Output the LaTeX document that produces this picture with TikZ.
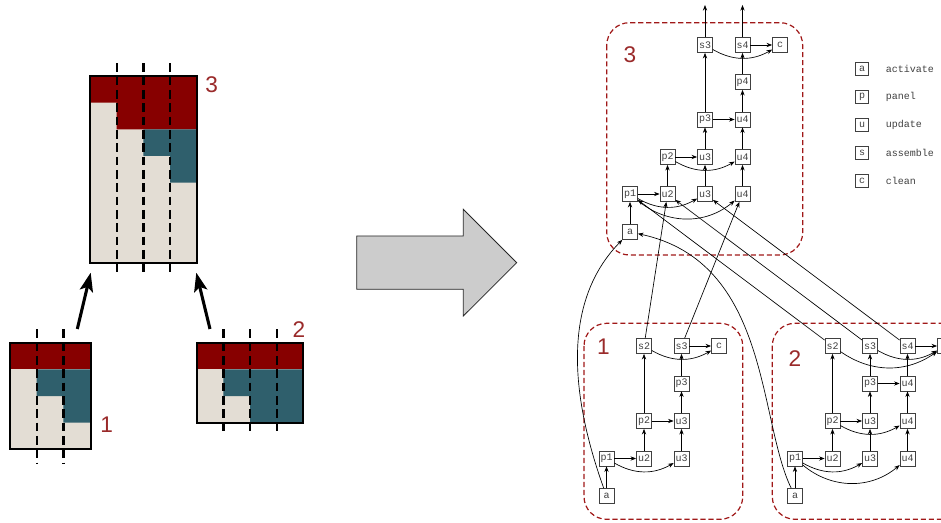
\documentclass[tikz,border=0pt]{standalone}
\usepackage{fontspec}
\setmainfont{Liberation Sans}
\setsansfont{Liberation Sans}
\setmonofont{Liberation Mono}
\usetikzlibrary{arrows.meta}
\definecolor{dred}{HTML}{870000}
\definecolor{teal1}{HTML}{2F5F6C}
\definecolor{beige}{HTML}{E3DDD4}
\definecolor{lblred}{HTML}{9A2A2A}
\definecolor{clred}{HTML}{A01818}
\definecolor{bgray}{HTML}{CCCCCC}
\tikzset{
  gnode/.style={draw=black!75, line width=0.6pt, minimum width=11.2pt, minimum height=11.2pt, inner sep=0pt, font=\ttfamily\fontsize{7.5}{8}\selectfont, text=black!75},
  lnode/.style={draw=black!75, line width=0.6pt, minimum width=9.5pt, minimum height=9.5pt, inner sep=0pt, font=\ttfamily\fontsize{7.5}{8}\selectfont, text=black!75},
  ltext/.style={anchor=west, inner sep=0pt, font=\ttfamily\fontsize{7.5}{8}\selectfont, text=black!75},
  gedge/.style={-{Stealth[length=4.2pt,width=3.2pt]}, line width=0.5pt},
  cluster/.style={draw=clred, dashed, dash pattern=on 3.8pt off 2.2pt, line width=0.9pt, rounded corners=17pt},
  clabel/.style={text=lblred, font=\sffamily\fontsize{17}{20}\selectfont, inner sep=0pt},
  gridline/.style={line width=1.8pt, dash pattern=on 6.5pt off 3.5pt},
  boxborder/.style={draw=black, line width=1.5pt},
  bigarrow/.style={-{Stealth[length=14pt,width=10pt,inset=3pt]}, line width=2.3pt},
}
\begin{document}
\begin{tikzpicture}[x=0.75pt,y=-0.75pt]
\useasboundingbox (0,0) rectangle (941,523);
% ---------- left: box 3
\fill[beige] (90,76) rectangle (196.7,262.7);
\fill[dred] (90,76) -- (196.7,76) -- (196.7,129.3) -- (116.7,129.3) -- (116.7,102.7) -- (90,102.7) -- cycle;
\fill[teal1] (143.3,129.3) -- (196.7,129.3) -- (196.7,182.7) -- (170,182.7) -- (170,156) -- (143.3,156) -- cycle;
\draw[boxborder] (90,76) rectangle (196.7,262.7);
\foreach \x in {116.7,143.3,170} \draw[gridline] (\x,63.3) -- (\x,276);
\node[clabel] (L3) at (211.7,85) {3};
% ---------- box 1
\fill[beige] (10,342.7) rectangle (90.7,449.3);
\fill[dred] (10,342.7) rectangle (90.7,369.3);
\fill[teal1] (36.7,369.3) -- (90.7,369.3) -- (90.7,422.7) -- (63.3,422.7) -- (63.3,396) -- (36.7,396) -- cycle;
\draw[boxborder] (10,342.7) rectangle (90.7,449.3);
\foreach \x in {36.7,63.3} \draw[gridline] (\x,329.3) -- (\x,462.7);
\node[clabel] (L1) at (106.7,425) {1};
% ---------- box 2
\fill[beige] (196.7,342.7) rectangle (303.3,422.7);
\fill[dred] (196.7,342.7) rectangle (303.3,369.3);
\fill[teal1] (223.3,369.3) -- (303.3,369.3) -- (303.3,422.7) -- (250,422.7) -- (250,396) -- (223.3,396) -- cycle;
\draw[boxborder] (196.7,342.7) rectangle (303.3,422.7);
\foreach \x in {223.3,250,276.7} \draw[gridline] (\x,329.3) -- (\x,434);
\node[clabel] (L2) at (299,330) {2};
% arrows
\coordinate (b1s) at (77.3,329);
\coordinate (b1e) at (90.7,272.7);
\coordinate (b2s) at (210,329);
\coordinate (b2e) at (196.3,272.7);
\draw[bigarrow] (b1s) -- (b1e);
\draw[bigarrow] (b2s) -- (b2e);
% ---------- block arrow
\draw[fill=bgray, draw=black!85, line width=0.6pt] (356.7,236) -- (463.3,236) -- (463.3,209.3) -- (516.7,262.7) -- (463.3,316) -- (463.3,289.3) -- (356.7,289.3) -- cycle;
% ---------- clusters
\draw[cluster] (606.7,22.7) rectangle (802.7,255);
\draw[cluster] (584,323.3) rectangle (742.7,519.3);
\draw[cluster] (772.3,323.3) rectangle (968,519.3);
\node[clabel] (K3) at (630,55) {3};
\node[clabel] (K1) at (603.3,347) {1};
\node[clabel] (K2) at (795,359) {2};
% ---------- cluster 3 nodes
\node[gnode] (c3s3) at (705,45) {s3};
\node[gnode] (c3s4) at (742.5,45) {s4};
\node[gnode] (c3c) at (780,45) {c};
\node[gnode] (c3p4) at (742.5,82) {p4};
\node[gnode] (c3p3) at (705,119.5) {p3};
\node[gnode] (c3u4a) at (742.5,119.5) {u4};
\node[gnode] (c3p2) at (667.5,157) {p2};
\node[gnode] (c3u3b) at (705,157) {u3};
\node[gnode] (c3u4b) at (742.5,157) {u4};
\node[gnode] (c3p1) at (630,194) {p1};
\node[gnode] (c3u2) at (667.5,194) {u2};
\node[gnode] (c3u3) at (705,194) {u3};
\node[gnode] (c3u4) at (742.5,194) {u4};
\node[gnode] (c3a) at (630,232) {a};
\coordinate (t3) at (705,5);
\coordinate (t4) at (742.5,5);
% ---------- cluster 1 nodes
\node[gnode] (c1s2) at (644,346) {s2};
\node[gnode] (c1s3) at (681.5,346) {s3};
\node[gnode] (c1c) at (719,346) {c};
\node[gnode] (c1p3) at (681.5,383.5) {p3};
\node[gnode] (c1p2) at (644,421) {p2};
\node[gnode] (c1u3b) at (681.5,421) {u3};
\node[gnode] (c1p1) at (606.5,458.5) {p1};
\node[gnode] (c1u2) at (644,458.5) {u2};
\node[gnode] (c1u3) at (681.5,458.5) {u3};
\node[gnode] (c1a) at (606.5,496) {a};
% ---------- cluster 2 nodes
\node[gnode] (c2s2) at (832.5,346) {s2};
\node[gnode] (c2s3) at (870,346) {s3};
\node[gnode] (c2s4) at (907.5,346) {s4};
\node[gnode] (c2c) at (945,346) {c};
\node[gnode] (c2p3) at (870,383.5) {p3};
\node[gnode] (c2u4a) at (907.5,383.5) {u4};
\node[gnode] (c2p2) at (832.5,421) {p2};
\node[gnode] (c2u3b) at (870,421) {u3};
\node[gnode] (c2u4b) at (907.5,421) {u4};
\node[gnode] (c2p1) at (795,458.5) {p1};
\node[gnode] (c2u2) at (832.5,458.5) {u2};
\node[gnode] (c2u3) at (870,458.5) {u3};
\node[gnode] (c2u4) at (907.5,458.5) {u4};
\node[gnode] (c2a) at (795,496) {a};
% ---------- legend
\node[lnode] (la) at (862,69) {a};
\node[lnode] (lp) at (862,97) {p};
\node[lnode] (lu) at (862,125) {u};
\node[lnode] (ls) at (862,153) {s};
\node[lnode] (lc) at (862,181) {c};
\node[ltext] (ta) at (885.5,69) {activate};
\node[ltext] (tp) at (885.5,97) {panel};
\node[ltext] (tu) at (885.5,125) {update};
\node[ltext] (ts) at (885.5,153) {assemble};
\node[ltext] (tc) at (885.5,181) {clean};
% ---------- cluster 3 edges
\draw[gedge] (c3a) -- (c3p1);
\draw[gedge] (c3p1) -- (c3u2);
\draw[gedge] (c3p1) to[bend right=30] (c3u3);
\draw[gedge] (c3p1) to[bend right=40] (c3u4);
\draw[gedge] (c3u2) -- (c3p2);
\draw[gedge] (c3p2) -- (c3u3b);
\draw[gedge] (c3p2) to[bend right=30] (c3u4b);
\draw[gedge] (c3u3) -- (c3u3b);
\draw[gedge] (c3u4) -- (c3u4b);
\draw[gedge] (c3u3b) -- (c3p3);
\draw[gedge] (c3p3) -- (c3u4a);
\draw[gedge] (c3u4b) -- (c3u4a);
\draw[gedge] (c3u4a) -- (c3p4);
\draw[gedge] (c3p4) -- (c3s4);
\draw[gedge] (c3p3) -- (c3s3);
\draw[gedge] (c3s4) -- (c3c);
\draw[gedge] (c3s3) to[bend right=30] (c3c);
\draw[gedge] (c3s3) -- (t3);
\draw[gedge] (c3s4) -- (t4);
% ---------- cluster 1 edges
\draw[gedge] (c1a) -- (c1p1);
\draw[gedge] (c1p1) -- (c1u2);
\draw[gedge] (c1p1) to[bend right=30] (c1u3);
\draw[gedge] (c1u2) -- (c1p2);
\draw[gedge] (c1p2) -- (c1u3b);
\draw[gedge] (c1u3) -- (c1u3b);
\draw[gedge] (c1u3b) -- (c1p3);
\draw[gedge] (c1p3) -- (c1s3);
\draw[gedge] (c1p2) -- (c1s2);
\draw[gedge] (c1s3) -- (c1c);
\draw[gedge] (c1s2) to[bend right=30] (c1c);
% ---------- cluster 2 edges
\draw[gedge] (c2a) -- (c2p1);
\draw[gedge] (c2p1) -- (c2u2);
\draw[gedge] (c2p1) to[bend right=30] (c2u3);
\draw[gedge] (c2p1) to[bend right=40] (c2u4);
\draw[gedge] (c2u2) -- (c2p2);
\draw[gedge] (c2p2) -- (c2u3b);
\draw[gedge] (c2p2) to[bend right=30] (c2u4b);
\draw[gedge] (c2u3) -- (c2u3b);
\draw[gedge] (c2u4) -- (c2u4b);
\draw[gedge] (c2u3b) -- (c2p3);
\draw[gedge] (c2p3) -- (c2u4a);
\draw[gedge] (c2u4b) -- (c2u4a);
\draw[gedge] (c2u4a) -- (c2s4);
\draw[gedge] (c2p3) -- (c2s3);
\draw[gedge] (c2p2) -- (c2s2);
\draw[gedge] (c2s4) -- (c2c);
\draw[gedge] (c2s3) to[bend right=30] (c2c);
\draw[gedge] (c2s2) to[bend right=35] (c2c);
% ---------- cross-cluster edges
\draw[gedge] (c1s2) -- (c3u2);
\draw[gedge] (c1s3) -- (c3u4);
\draw[gedge] (c2s2) -- (c3p1);
\draw[gedge] (c2s3) -- (c3u2);
\draw[gedge] (c2s4) -- (c3u3);
\draw[gedge] (c1a) .. controls (565,380) and (568,295) .. (c3a);
\draw[gedge] (c2a) .. controls (758,420) and (770,262) .. (c3a);
\end{tikzpicture}
\end{document}
